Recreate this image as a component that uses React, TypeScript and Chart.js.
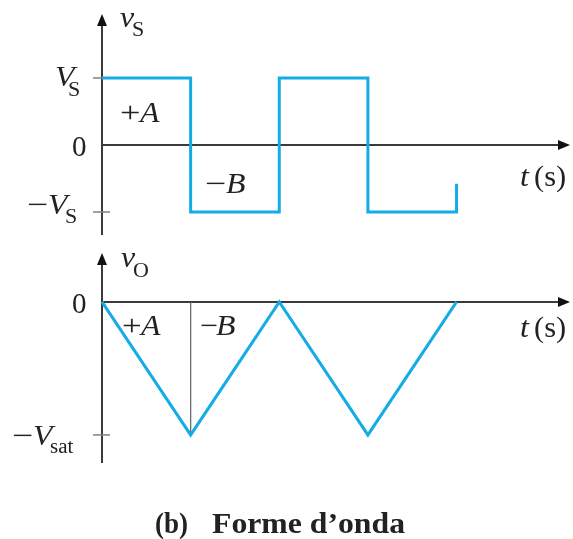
import { useEffect, useRef } from "react";
import { Chart, registerables } from "chart.js";

Chart.register(...registerables);

// ---- data ----
const squareT = [0, 1, 1, 2, 2, 3, 3, 4, 4];
const squareV = [1, 1, -1, -1, 1, 1, -1, -1, -0.58];
const triT = [0, 1, 2, 3, 4];
const triV = [0, -1, 0, -1, 0];
const guideT = [1, 1];
const guideV = [0, -1];
const topTicks = [1, -1];
const bottomTicks = [-1];
const xRange = [0, 5.28];
const topRange = [-1.343, 1.955];
const bottomRange = [-1.211, 0.368];

const CYAN = "#14ACE6";
const AXIS = "#3a3a3a";
const TICK = "#808080";
const TXT = "#222";
const SERIF = '"Liberation Serif", "Times New Roman", Times, serif';
const FS = 29;
const SUB = 20;

// draw text with an optional horizontal stretch
function txt(ctx: CanvasRenderingContext2D, s: string, x: number, y: number, size: number, italic = false, sx = 1.1) {
  ctx.font = `${italic ? "italic " : ""}${size}px ${SERIF}`;
  ctx.save();
  ctx.translate(x, y);
  ctx.scale(sx, 1);
  ctx.fillText(s, 0, 0);
  ctx.restore();
}

const MINUS = "\u2212";

function axes(ctx: CanvasRenderingContext2D, chart: any, ticks: number[]) {
  const xs = chart.scales.x;
  const ys = chart.scales.y;
  const area = chart.chartArea;
  const ax = xs.getPixelForValue(0);
  const y0 = ys.getPixelForValue(0);
  ctx.save();
  ctx.strokeStyle = AXIS;
  ctx.fillStyle = "#111";
  ctx.lineWidth = 2;
  ctx.beginPath();
  ctx.moveTo(ax, area.bottom);
  ctx.lineTo(ax, area.top + 8);
  ctx.stroke();
  ctx.beginPath();
  ctx.moveTo(ax, area.top);
  ctx.lineTo(ax - 5, area.top + 12);
  ctx.lineTo(ax + 5, area.top + 12);
  ctx.closePath();
  ctx.fill();
  ctx.beginPath();
  ctx.moveTo(ax, y0);
  ctx.lineTo(area.right - 8, y0);
  ctx.stroke();
  ctx.beginPath();
  ctx.moveTo(area.right, y0);
  ctx.lineTo(area.right - 12, y0 - 5);
  ctx.lineTo(area.right - 12, y0 + 5);
  ctx.closePath();
  ctx.fill();
  ctx.strokeStyle = TICK;
  ctx.lineWidth = 1.5;
  ticks.forEach((v) => {
    const py = ys.getPixelForValue(v);
    ctx.beginPath();
    ctx.moveTo(ax - 9, py);
    ctx.lineTo(ax + 8, py);
    ctx.stroke();
  });
  ctx.restore();
}

const topPlugin = {
  id: "topDeco",
  beforeDatasetsDraw(chart: any) {
    axes(chart.ctx, chart, topTicks);
  },
  afterDatasetsDraw(chart: any) {
    const ctx: CanvasRenderingContext2D = chart.ctx;
    const xs = chart.scales.x;
    const ys = chart.scales.y;
    const ax = xs.getPixelForValue(0);
    const y0 = ys.getPixelForValue(0);
    const yp = ys.getPixelForValue(1);
    const yn = ys.getPixelForValue(-1);
    const top = chart.chartArea.top;
    const right = chart.chartArea.right;
    ctx.save();
    ctx.fillStyle = TXT;
    ctx.textBaseline = "alphabetic";
    // v_S
    txt(ctx, "v", ax + 18, top + 13, FS, true);
    txt(ctx, "S", ax + 30, top + 22, SUB);
    // V_S
    txt(ctx, "V", ax - 47, yp + 8, FS, true);
    txt(ctx, "S", ax - 34, yp + 18, SUB);
    // 0
    txt(ctx, "0", ax - 30, y0 + 11, FS, false, 1);
    // -V_S
    txt(ctx, MINUS, ax - 75, yn + 2, FS, false, 1.3);
    txt(ctx, "V", ax - 54, yn + 2, FS, true);
    txt(ctx, "S", ax - 37, yn + 11, SUB);
    // +A
    txt(ctx, "+", ax + 18, yp + 44, FS, false, 1.25);
    txt(ctx, "A", ax + 38, yp + 44, FS, true);
    // -B
    txt(ctx, MINUS, ax + 103, yn - 19, FS, false, 1.3);
    txt(ctx, "B", ax + 124, yn - 19, FS, true);
    // t (s)
    txt(ctx, "t", right - 50, y0 + 41, FS, true);
    txt(ctx, "(s)", right - 36, y0 + 41, FS, false, 1.05);
    ctx.restore();
  },
};

const bottomPlugin = {
  id: "bottomDeco",
  beforeDatasetsDraw(chart: any) {
    axes(chart.ctx, chart, bottomTicks);
  },
  afterDatasetsDraw(chart: any) {
    const ctx: CanvasRenderingContext2D = chart.ctx;
    const xs = chart.scales.x;
    const ys = chart.scales.y;
    const ax = xs.getPixelForValue(0);
    const y0 = ys.getPixelForValue(0);
    const yn = ys.getPixelForValue(-1);
    const top = chart.chartArea.top;
    const right = chart.chartArea.right;
    ctx.save();
    ctx.fillStyle = TXT;
    // v_O
    txt(ctx, "v", ax + 19, top + 14, FS, true);
    txt(ctx, "O", ax + 31, top + 24, SUB);
    // 0
    txt(ctx, "0", ax - 30, y0 + 11, FS, false, 1);
    // -V_sat
    txt(ctx, MINUS, ax - 90, yn + 10, FS, false, 1.3);
    txt(ctx, "V", ax - 69, yn + 10, FS, true);
    txt(ctx, "sat", ax - 52, yn + 18, SUB, false, 1.05);
    // +A
    txt(ctx, "+", ax + 20, y0 + 33, FS, false, 1.2);
    txt(ctx, "A", ax + 39, y0 + 33, FS, true);
    // -B
    txt(ctx, MINUS, ax + 98, y0 + 33, FS, false, 1.1);
    txt(ctx, "B", ax + 114, y0 + 33, FS, true);
    // t (s)
    txt(ctx, "t", right - 50, y0 + 35, FS, true);
    txt(ctx, "(s)", right - 36, y0 + 35, FS, false, 1.05);
    // caption
    const cy = chart.chartArea.bottom + 70;
    ctx.font = `bold 29px ${SERIF}`;
    const fitDraw = (s: string, x: number, target: number) => {
      const m = ctx.measureText(s).width;
      ctx.save();
      ctx.translate(x, cy);
      ctx.scale(target / m, 1);
      ctx.fillText(s, 0, 0);
      ctx.restore();
    };
    fitDraw("(b)", 155, 33);
    fitDraw("Forme d\u2019onda", 212, 193);
    ctx.restore();
  },
};

function pts(t: number[], v: number[]) {
  return t.map((x, i) => ({ x, y: v[i] }));
}

function makeChart(canvas: HTMLCanvasElement, datasets: any[], yr: number[], pad: any, plugin: any) {
  return new Chart(canvas, {
    type: "scatter",
    data: { datasets },
    options: {
      responsive: false,
      animation: false,
      events: [],
      layout: { padding: pad },
      scales: {
        x: { type: "linear", min: xRange[0], max: xRange[1], display: false },
        y: { type: "linear", min: yr[0], max: yr[1], display: false },
      },
      plugins: { legend: { display: false }, tooltip: { enabled: false } },
    },
    plugins: [plugin],
  } as any);
}

export default function App() {
  const topRef = useRef<HTMLCanvasElement>(null);
  const botRef = useRef<HTMLCanvasElement>(null);

  useEffect(() => {
    document.body.style.margin = "0";
    const line = (data: any[], color: string, width: number) => ({
      data,
      showLine: true,
      borderColor: color,
      borderWidth: width,
      pointRadius: 0,
      tension: 0,
      fill: false,
      clip: false,
      borderJoinStyle: "miter",
      borderCapStyle: "butt",
    });
    const c1 = makeChart(
      topRef.current!,
      [line(pts(squareT, squareV), CYAN, 3)],
      topRange,
      { left: 102, right: 3, top: 14, bottom: 5 },
      topPlugin
    );
    const c2 = makeChart(
      botRef.current!,
      [line(pts(triT, triV), CYAN, 3), line(pts(guideT, guideV), "#6a6a6a", 1.3)],
      bottomRange,
      { left: 102, right: 3, top: 13, bottom: 76 },
      bottomPlugin
    );
    return () => {
      c1.destroy();
      c2.destroy();
    };
  }, []);

  return (
    <div style={{ position: "absolute", left: 0, top: 0, width: 573, height: 539, background: "#fff" }}>
      <canvas ref={topRef} width={573} height={240} style={{ position: "absolute", left: 0, top: 0, width: 573, height: 240 }} />
      <canvas ref={botRef} width={573} height={299} style={{ position: "absolute", left: 0, top: 240, width: 573, height: 299 }} />
    </div>
  );
}
